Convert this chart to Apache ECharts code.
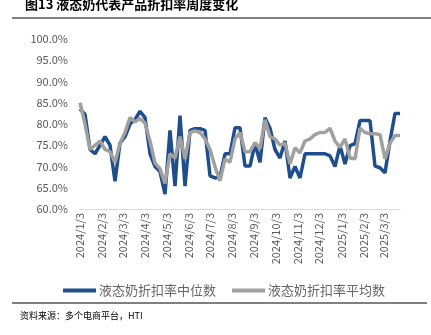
<!DOCTYPE html>
<html><head><meta charset="utf-8">
<script src="https://cdn.jsdelivr.net/npm/echarts@6/dist/echarts.min.js"></script>
<style>html,body{margin:0;padding:0;background:#fff}#c{width:431px;height:335px}</style>
</head><body><div id="c"></div>
<script>
const weeks = ['2024/1/3','2024/1/10','2024/1/17','2024/1/24','2024/1/31','2024/2/7','2024/2/14','2024/2/21','2024/2/28','2024/3/6','2024/3/13','2024/3/20','2024/3/27','2024/4/3','2024/4/10','2024/4/17','2024/4/24','2024/5/1','2024/5/8','2024/5/15','2024/5/22','2024/5/29','2024/6/5','2024/6/12','2024/6/19','2024/6/26','2024/7/3','2024/7/10','2024/7/17','2024/7/24','2024/7/31','2024/8/7','2024/8/14','2024/8/21','2024/8/28','2024/9/4','2024/9/11','2024/9/18','2024/9/25','2024/10/2','2024/10/9','2024/10/16','2024/10/23','2024/10/30','2024/11/6','2024/11/13','2024/11/20','2024/11/27','2024/12/4','2024/12/11','2024/12/18','2024/12/25','2025/1/1','2025/1/8','2025/1/15','2025/1/22','2025/1/29','2025/2/5','2025/2/12','2025/2/19','2025/2/26','2025/3/5','2025/3/12','2025/3/19','2025/3/26'];
const median = [83.5,82.3,74.0,73.0,75.0,77.0,75.0,66.5,75.5,77.0,80.0,81.0,83.0,81.5,73.0,70.0,68.8,63.5,78.5,65.4,82.0,65.4,78.5,78.9,78.9,78.5,67.8,67.3,67.5,73.0,73.0,79.1,79.1,70.1,70.1,75.4,71.0,81.5,79.0,74.0,72.0,76.0,67.3,70.0,67.3,73.0,73.0,73.0,73.0,73.0,72.5,70.0,74.9,70.6,74.9,75.4,80.8,80.8,80.8,70.1,69.7,68.5,76.0,82.5,82.5];
const mean = [85.0,80.0,74.0,75.0,76.0,74.0,73.5,71.0,75.5,78.0,81.5,80.5,81.3,80.2,76.0,70.8,69.5,66.0,73.0,72.0,77.0,71.8,78.0,78.4,78.0,76.5,74.0,70.0,66.6,71.8,71.0,76.5,78.0,73.5,73.5,75.6,74.2,81.0,77.0,76.5,75.0,75.5,70.6,74.4,73.2,76.0,76.5,77.5,78.0,78.0,79.0,76.0,74.5,76.5,72.0,71.8,79.0,78.0,77.7,77.7,77.5,71.8,75.5,77.3,77.3];
const tickLabels = ['2024/1/3','2024/2/3','2024/3/3','2024/4/3','2024/5/3','2024/6/3','2024/7/3','2024/8/3','2024/9/3','2024/10/3','2024/11/3','2024/12/3','2025/1/3','2025/2/3','2025/3/3'];
const seriesNames = ['液态奶折扣率中位数','液态奶折扣率平均数'];
const titleText = '图13 液态奶代表产品折扣率周度变化';
const sourceText = '资料来源：多个电商平台，HTI';

function ts(s){const p=s.split('/').map(Number);return Date.UTC(p[0],p[1]-1,p[2])/86400000;}
function fmt(v){const d=new Date(Math.round(v)*86400000);return d.getUTCFullYear()+'/'+(d.getUTCMonth()+1)+'/'+d.getUTCDate();}
const chart = echarts.init(document.getElementById('c'));
const font = '"Noto Sans CJK SC","Noto Sans",sans-serif';
chart.setOption({
  animation:false,
  textStyle:{fontFamily:font},
  title:{text:titleText,left:20,top:-7,textStyle:{fontSize:13,fontWeight:'bold',color:'#000',fontFamily:font}},
  grid:{left:80,right:31,top:39,bottom:126,containLabel:false},
  legend:{left:58,top:279,itemWidth:33,itemHeight:4,itemGap:16,icon:'rect',
    textStyle:{fontSize:13,color:'#666',fontFamily:font,padding:[0,0,0,-2]},data:seriesNames},
  xAxis:{type:'value',min:ts(weeks[0]),max:ts(weeks[weeks.length-1]),
    axisLine:{show:true,lineStyle:{color:'#d9d9d9',width:1}},axisTick:{show:false},splitLine:{show:false},
    axisLabel:{customValues:tickLabels.map(ts),rotate:90,formatter:fmt,color:'#595959',fontSize:11,margin:4,hideOverlap:false,showMinLabel:true,showMaxLabel:true}},
  yAxis:{type:'value',min:60,max:100,interval:5,
    axisLine:{show:false},axisTick:{show:false},splitLine:{show:false},
    axisLabel:{formatter:v=>v.toFixed(1)+'%',color:'#595959',fontSize:11,margin:12}},
  series:[
    {name:seriesNames[0],type:'line',showSymbol:false,data:weeks.map((w,i)=>[ts(w),median[i]]),
     lineStyle:{color:'#1F4E8C',width:3.5},itemStyle:{color:'#1F4E8C'},z:2},
    {name:seriesNames[1],type:'line',showSymbol:false,data:weeks.map((w,i)=>[ts(w),mean[i]]),
     lineStyle:{color:'#A0A0A0',width:3.5},itemStyle:{color:'#A0A0A0'},z:3}
  ],
  graphic:[
    {type:'line',shape:{x1:12,y1:18,x2:431,y2:18},style:{stroke:'#000',lineWidth:1}},
    {type:'line',shape:{x1:12,y1:303,x2:427,y2:303},style:{stroke:'#000',lineWidth:1}},
    {type:'text',left:20,top:311,style:{text:sourceText,fontSize:9,fill:'#000',fontFamily:font}}
  ]
});
</script></body></html>
